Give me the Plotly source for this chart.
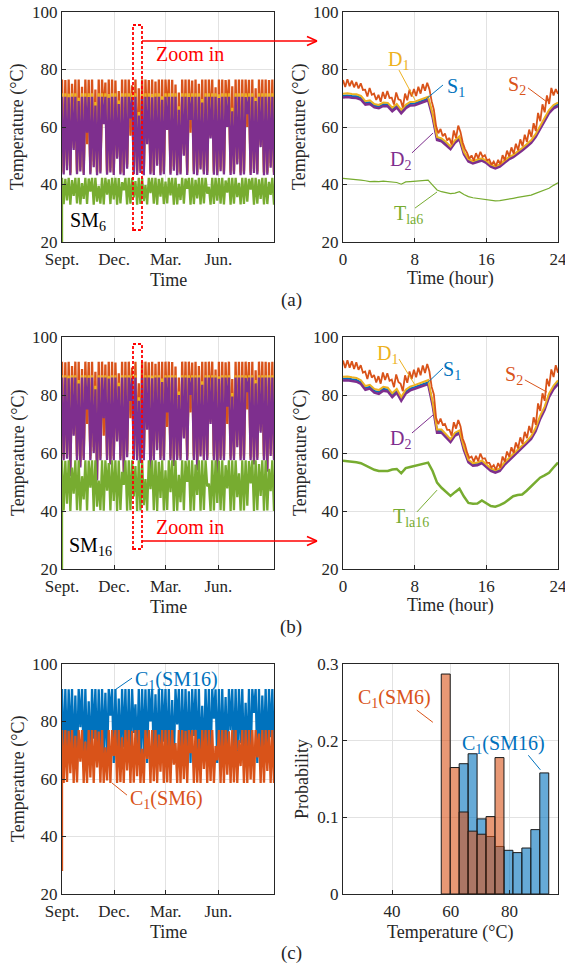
import numpy as np
import plotly.graph_objects as go

W, H = 565, 971
SERIF = "Liberation Serif, Times New Roman, Times, DejaVu Serif, serif"
INK = "#262626"
C_OR = "#D95319"
C_YE = "#EDB120"
C_BL = "#0072BD"
C_PU = "#7E2F8E"
C_GR = "#77AC30"
RED = "#FF0000"

# ---------------- axis ticks ----------------
month_ticks = [0, 91, 181, 273]
month_labels = ["Sept.", "Dec.", "Mar.", "Jun."]
year_span = 370
hour_ticks = [0, 8, 16, 24]
temp_ticks = [20, 40, 60, 80, 100]
prob_ticks = [0, 0.1, 0.2, 0.3]
prob_labels = ["0", "0.1", "0.2", "0.3"]
hist_temp_ticks = [40, 60, 80]

# ---------------- (a) SM6, whole year: peaks / troughs ----------------
sm6_S2_hi = [76.5,76.3,76.5,75.0,76.5,76.5,74.0,76.5,76.4,76.5,73.0,76.5,76.5,75.5,76.5,76.5,
             76.2,72.5,76.5,76.5,76.5,74.5,76.5,73.5,76.5,76.5,76.3,76.5,75.8,76.5,76.5,76.5,
             76.5,76.4,74.8,72.0,76.5,76.5,76.5,76.2,76.5,75.0,76.5,76.5,76.5,76.5,73.8,76.5,
             76.5,76.3,76.5,74.2,76.5,76.5,76.5,76.5,76.4,76.5,73.5,76.5,76.5,76.5,76.3,76.5]
sm6_S2_lo = [44.5,46.5,44.3,55.0,44.8,46.0,44.5,54.0,44.6,48.0,44.3,45.0,63.0,44.5,45.8,44.4,
             51.5,44.6,44.3,47.0,57.0,44.8,44.5,45.5,44.3,57.0,44.6,44.5,48.5,44.3,44.8,62.5,
             44.5,46.3,44.3,44.6,52.5,44.5,58.0,44.8,44.3,46.8,44.6,44.5,59.0,44.5,44.3,46.0,
             44.6,63.5,44.5,44.8,49.0,44.3,44.6,60.0,44.5,45.5,44.6,56.0,44.3,44.5,47.5,44.4]
sm6_D1_hi = [71.7,71.7,71.6,71.7,71.7,70.2,71.7,71.7,71.7,71.7,68.7,71.7,71.7,71.7,71.5,71.7,
             71.7,69.2,71.7,71.7,71.7,71.7,71.7,65.2,71.7,71.7,71.7,71.6,71.7,71.7,70.7,71.7,
             71.7,71.7,71.7,67.2,71.7,71.7,71.7,71.7,71.7,71.7,69.7,71.7,71.7,71.7,71.7,71.4,
             71.7,71.7,71.7,66.7,71.7,71.7,71.7,71.7,71.7,71.7,70.2,71.7,71.7,71.7,71.7,71.7]
sm6_D1_lo = [44.1,45.6,43.8,52.6,44.2,45.1,43.9,58.6,44.1,46.6,43.8,44.4,61.6,44.0,44.8,43.9,
             49.6,44.1,43.8,46.1,63.6,44.2,43.9,44.6,43.8,54.6,44.1,43.9,47.1,43.8,44.2,59.6,
             44.0,45.4,43.8,44.1,50.6,43.9,63.1,44.2,43.8,45.8,44.1,43.9,56.6,44.0,43.8,45.2,
             44.1,60.6,43.9,44.2,47.6,43.8,44.1,65.1,43.9,44.6,44.1,53.6,43.8,44.0,46.4,43.9]
sm6_D2_hi = [70.5,70.5,70.3,70.5,70.5,69.0,70.5,70.5,70.4,70.5,67.5,70.5,70.5,70.5,70.2,70.5,
             70.5,68.0,70.5,70.5,70.5,70.4,70.5,64.0,70.5,70.5,70.5,70.3,70.5,70.5,69.5,70.5,
             70.5,70.5,70.5,66.0,70.5,70.5,70.4,70.5,70.5,70.5,68.5,70.5,70.5,70.5,70.5,70.1,
             70.5,70.5,70.5,65.5,70.5,70.5,70.5,70.4,70.5,70.5,69.0,70.5,70.5,70.5,70.5,70.5]
sm6_D2_lo = [43.5,45.0,43.2,52.0,43.6,44.5,43.3,58.0,43.5,46.0,43.2,43.8,61.0,43.4,44.2,43.3,
             49.0,43.5,43.2,45.5,63.0,43.6,43.3,44.0,43.2,54.0,43.5,43.3,46.5,43.2,43.6,59.0,
             43.4,44.8,43.2,43.5,50.0,43.3,62.5,43.6,43.2,45.2,43.5,43.3,56.0,43.4,43.2,44.6,
             43.5,60.0,43.3,43.6,47.0,43.2,43.5,64.5,43.3,44.0,43.5,53.0,43.2,43.4,45.8,43.3]
sm6_Tla_start = 20.0
sm6_Tla_hi = [42.3,42.0,42.3,41.5,42.3,42.3,40.5,42.3,42.1,42.3,42.3,39.5,42.3,42.3,41.8,42.3,
              42.3,42.2,40.8,42.3,42.3,42.3,41.2,42.3,42.3,39.8,42.3,42.3,42.3,42.0,42.3,41.0,
              42.3,42.3,42.3,40.2,42.3,42.1,42.3,42.3,41.6,42.3,42.3,42.3,39.2,42.3,42.3,42.2,
              42.3,41.4,42.3,42.3,42.3,40.6,42.3,42.3,42.0,42.3,42.3,41.8,42.3,42.3,40.9,42.3]
sm6_Tla_lo = [33.2,34.5,33.0,36.0,33.4,33.1,35.0,33.2,37.5,33.0,34.0,33.3,33.1,36.5,33.2,34.8,
              33.0,33.4,38.0,33.1,33.3,35.5,33.0,33.2,34.2,33.1,37.0,33.3,33.0,35.8,33.2,33.4,
              36.2,33.0,33.1,34.6,33.3,38.5,33.0,33.2,35.2,33.1,33.4,36.8,33.0,33.2,34.4,33.3,
              33.1,37.2,33.0,33.3,35.6,33.1,33.2,34.0,38.2,33.0,33.3,35.0,33.1,33.2,36.4,33.0]

# ---------------- (a) SM6, one day (0.5 h samples) ----------------
hours = np.arange(0, 24.01, 0.5)
day6_S2_hi = [76.3,76.6,76.1,75.6,75.2,73.0,73.6,71.6,71.2,72.2,72.5,70.2,72.0,69.3,71.6,73.0,73.2,74.0,74.9,75.4,
              69.0,60.3,59.3,57.7,56.2,58.8,60.5,54.6,51.0,50.1,50.9,51.4,50.2,48.7,48.0,48.6,50.2,51.8,52.9,54.2,
              55.7,57.3,59.1,61.3,64.9,67.9,71.0,73.6,73.2]
day6_S2_lo = [73.9,74.2,73.8,73.4,72.9,70.6,71.2,69.4,68.8,69.8,70.1,67.8,69.6,66.8,69.3,70.6,70.8,71.6,72.6,73.1,
              66.0,57.8,56.8,55.3,53.9,56.2,58.3,52.4,49.0,48.3,49.1,49.6,48.4,46.9,46.4,47.0,48.4,49.8,50.7,51.9,
              53.3,54.8,56.5,58.6,62.0,65.1,68.0,71.0,71.5]
day6_D1 = [71.6,71.7,71.5,71.4,70.8,69.0,69.3,68.0,67.7,68.5,68.4,66.7,68.0,66.0,67.7,68.7,68.8,69.4,70.0,70.5,
           64.6,56.5,56.0,54.8,53.2,55.4,56.8,51.4,48.9,48.1,48.7,49.1,48.3,47.0,46.4,47.0,48.3,49.5,50.3,51.4,
           52.7,54.0,55.4,57.5,60.5,63.1,65.9,67.6,68.5]
day6_S1 = [70.9,71.0,70.8,70.7,70.1,68.4,68.6,67.4,67.1,67.9,67.8,66.1,67.4,65.4,67.1,68.1,68.2,68.8,69.4,69.9,
           64.1,56.0,55.5,54.3,52.8,55.0,56.3,51.0,48.5,47.7,48.3,48.7,47.9,46.6,46.0,46.6,47.9,49.1,49.9,51.0,
           52.3,53.6,55.0,57.0,60.0,62.6,65.4,67.1,67.9]
day6_D2 = [70.3,70.4,70.2,70.1,69.5,67.8,68.0,66.8,66.5,67.3,67.2,65.5,66.8,64.8,66.5,67.5,67.6,68.2,68.8,69.3,
           63.5,55.5,55.0,53.8,52.3,54.5,55.8,50.5,48.0,47.3,47.9,48.3,47.5,46.2,45.6,46.2,47.5,48.7,49.5,50.5,
           51.8,53.1,54.5,56.5,59.5,62.0,64.8,66.5,67.3]
day6_Tla = [42.1,42.0,41.9,41.7,41.5,41.3,41.0,41.1,41.0,41.2,41.0,40.9,40.7,40.1,40.9,41.0,41.1,41.2,41.4,41.5,
            39.8,38.1,37.5,37.2,36.8,37.0,37.5,36.5,35.8,35.4,35.2,35.0,34.8,34.4,34.3,34.4,34.6,34.9,35.2,35.5,
            35.8,36.0,36.3,36.9,37.5,38.0,38.7,39.7,40.6]

# ---------------- (b) SM16, whole year ----------------
sm16_S2_hi = [91.5,91.3,91.5,90.0,91.5,91.5,89.0,91.5,91.4,91.5,88.0,91.5,91.5,90.5,91.5,91.5,
              91.2,87.5,91.5,91.5,91.5,89.5,91.5,84.0,91.5,91.5,91.3,91.5,90.8,91.5,91.5,91.5,
              91.5,91.4,89.8,86.0,91.5,91.5,91.5,91.2,91.5,90.0,91.5,91.5,91.5,91.5,88.8,91.5,
              91.5,91.3,91.5,85.5,91.5,91.5,91.5,91.5,91.4,91.5,88.5,91.5,91.5,91.5,91.3,91.5]
sm16_S2_lo = [59.0,59.5,58.5,68.5,59.0,57.0,59.1,70.0,59.0,62.0,58.0,59.0,66.0,59.1,58.0,59.0,
              67.0,59.0,58.0,60.5,72.0,59.1,59.0,58.5,59.0,71.0,58.0,59.0,63.5,59.1,59.0,69.0,
              59.0,58.0,59.1,59.0,68.0,59.0,74.0,59.1,58.0,61.0,59.0,59.1,73.5,59.0,58.0,59.1,
              59.0,70.0,59.0,59.1,64.5,59.0,59.1,75.0,59.0,58.5,59.1,70.5,59.0,58.0,61.5,59.0]
sm16_D1_hi = [86.8,86.8,86.7,86.8,86.8,85.2,86.8,86.8,86.8,86.8,83.2,86.8,86.8,86.8,86.6,86.8,
              86.8,84.2,86.8,86.8,86.8,86.8,86.8,79.2,86.8,86.8,86.8,86.7,86.8,86.8,85.7,86.8,
              86.8,86.8,86.8,81.2,86.8,86.8,86.8,86.8,86.8,86.8,84.7,86.8,86.8,86.8,86.8,86.5,
              86.8,86.8,86.8,80.7,86.8,86.8,86.8,86.8,86.8,86.8,85.2,86.8,86.8,86.8,86.8,86.8]
sm16_D1_lo = [58.1,58.6,52.6,66.6,58.1,55.6,58.2,75.6,58.1,60.6,51.1,58.1,72.6,58.2,56.6,58.1,
              64.6,58.1,53.6,59.1,78.6,58.2,58.1,57.1,58.1,68.6,52.1,58.1,61.6,58.2,58.1,74.6,
              58.1,56.1,58.2,58.1,65.6,58.1,80.6,58.2,54.6,59.4,58.1,58.2,70.6,58.1,53.1,58.2,
              58.1,76.6,58.1,58.2,62.6,58.1,58.2,81.6,58.1,56.6,58.2,67.6,58.1,54.1,59.6,58.1]
sm16_D2_hi = [86.0,86.0,85.8,86.0,86.0,84.0,86.0,86.0,85.9,86.0,82.0,86.0,86.0,86.0,85.7,86.0,
              86.0,83.0,86.0,86.0,86.0,85.9,86.0,78.0,86.0,86.0,86.0,85.8,86.0,86.0,84.5,86.0,
              86.0,86.0,86.0,80.0,86.0,86.0,85.9,86.0,86.0,86.0,83.5,86.0,86.0,86.0,86.0,85.6,
              86.0,86.0,86.0,79.5,86.0,86.0,86.0,85.9,86.0,86.0,84.0,86.0,86.0,86.0,86.0,86.0]
sm16_D2_lo = [57.5,58.0,52.0,66.0,57.5,55.0,57.6,75.0,57.5,60.0,50.5,57.5,72.0,57.6,56.0,57.5,
              64.0,57.5,53.0,58.5,78.0,57.6,57.5,56.5,57.5,68.0,51.5,57.5,61.0,57.6,57.5,74.0,
              57.5,55.5,57.6,57.5,65.0,57.5,80.0,57.6,54.0,58.8,57.5,57.6,70.0,57.5,52.5,57.6,
              57.5,76.0,57.5,57.6,62.0,57.5,57.6,81.0,57.5,56.0,57.6,67.0,57.5,53.5,59.0,57.5]
sm16_Tla_start = 20.0
sm16_Tla_hi = [57.5,57.3,57.5,55.0,57.5,57.5,52.0,57.5,57.4,57.5,57.5,50.5,57.5,57.5,56.5,57.5,
               57.5,57.4,53.5,57.5,57.5,57.5,55.5,57.5,57.5,51.0,57.5,57.5,57.5,57.0,57.5,54.0,
               57.5,57.5,57.5,52.5,57.5,57.3,57.5,57.5,56.0,57.5,57.5,57.5,49.5,57.5,57.5,57.4,
               57.5,55.8,57.5,57.5,57.5,53.0,57.5,57.5,57.2,57.5,57.5,56.2,57.5,57.5,54.5,57.5]
sm16_Tla_lo = [40.2,42.5,40.0,46.0,40.3,40.1,44.0,40.2,48.0,40.0,41.5,40.3,40.1,47.0,40.2,43.5,
               40.0,40.4,49.0,40.1,40.3,45.0,40.0,40.2,42.0,40.1,47.5,40.3,40.0,44.5,40.2,40.4,
               46.5,40.0,40.1,43.0,40.3,50.0,40.0,40.2,45.5,40.1,40.4,48.5,40.0,40.2,42.8,40.3,
               40.1,47.8,40.0,40.3,44.8,40.1,40.2,41.8,49.5,40.0,40.3,45.2,40.1,40.2,46.8,40.0]

# ---------------- (b) SM16, one day ----------------
day16_S2_hi = [91.9,92.0,91.6,91.3,90.3,88.1,88.6,86.9,86.5,87.8,87.5,85.3,87.1,83.9,86.8,88.1,88.7,89.4,90.2,90.7,
               82.8,72.1,71.9,70.0,68.0,70.6,71.4,65.0,60.1,58.8,59.0,59.8,58.2,56.6,55.8,56.5,58.8,60.5,62.0,63.6,
               65.4,67.3,69.3,72.3,77.1,80.6,85.6,88.8,90.3]
day16_S2_lo = [89.3,89.4,89.0,88.7,87.7,85.5,86.0,84.3,83.9,85.2,84.9,82.7,84.5,81.3,84.2,85.5,86.1,86.8,87.6,88.1,
               80.2,69.9,69.7,68.0,66.0,68.4,69.2,63.0,58.3,57.0,57.2,58.0,56.6,55.0,54.2,54.9,57.0,58.7,60.0,61.6,
               63.2,65.1,66.9,69.7,74.5,78.0,83.0,86.2,87.7]
day16_D1 = [86.3,86.4,86.1,85.9,85.1,83.1,83.5,82.1,81.7,82.8,82.5,80.6,82.1,79.3,81.8,82.9,83.4,84.0,84.6,85.1,
            77.7,68.1,68.1,66.6,64.8,67.0,67.8,62.0,57.7,56.5,56.7,57.4,56.1,54.7,54.1,54.7,56.7,58.2,59.5,60.9,
            62.5,64.1,65.8,68.6,72.8,75.9,80.5,83.2,85.0]
day16_S1 = [85.6,85.7,85.4,85.2,84.4,82.4,82.8,81.4,81.0,82.1,81.8,79.9,81.4,78.6,81.1,82.2,82.7,83.3,83.9,84.4,
            77.1,67.6,67.6,66.1,64.4,66.6,67.4,61.6,57.3,56.1,56.3,57.0,55.7,54.3,53.7,54.3,56.3,57.8,59.1,60.5,
            62.0,63.6,65.3,68.0,72.2,75.3,79.8,82.5,84.4]
day16_D2 = [85.0,85.1,84.8,84.6,83.8,81.8,82.2,80.8,80.4,81.5,81.2,79.3,80.8,78.0,80.5,81.6,82.1,82.7,83.3,83.8,
            76.5,67.0,67.0,65.5,63.8,66.0,66.8,61.0,56.8,55.6,55.8,56.5,55.2,53.8,53.2,53.8,55.8,57.3,58.6,60.0,
            61.5,63.1,64.8,67.5,71.7,74.8,79.3,82.0,83.8]
day16_Tla = [57.3,57.2,57.0,56.8,56.5,55.8,55.0,54.2,53.8,53.9,53.8,54.3,54.5,53.0,54.8,55.2,55.6,56.0,56.5,56.7,
             53.8,49.8,48.0,46.5,45.2,46.5,47.7,45.0,42.8,42.5,42.6,43.6,42.6,41.7,41.5,42.0,42.8,44.0,45.1,45.5,
             45.7,47.0,48.6,50.0,51.5,52.3,53.2,55.0,56.7]

# ---------------- (c) C1 whole year ----------------
c1_sm16_hi = [91.3,91.3,91.2,91.3,89.0,91.3,91.3,91.3,87.0,91.3,91.3,91.2,91.3,90.0,91.3,91.3,
              91.3,88.0,91.3,91.3,91.3,91.3,86.0,91.3,91.3,91.2,91.3,91.3,89.5,91.3,91.3,91.3,
              91.3,87.5,91.3,91.3,91.3,91.3,90.5,91.3,91.3,91.3,85.5,91.3,91.3,91.3,91.2,91.3,
              91.3,88.5,91.3,91.3,91.3,91.3,91.3,86.5,91.3,91.3,91.3,91.3,89.0,91.3,91.3,91.3]
c1_sm16_lo = [65.6,66.0,72.0,65.6,65.8,78.0,65.6,66.5,65.6,74.0,65.7,65.6,69.0,65.6,82.0,65.6,
              66.2,65.6,71.0,65.6,65.7,76.0,65.6,65.6,68.0,65.6,80.0,65.6,66.0,65.6,73.0,65.6,
              65.8,65.6,79.0,65.6,67.0,65.6,65.6,75.0,65.6,66.4,65.6,70.0,65.6,81.0,65.6,65.7,
              67.5,65.6,77.0,65.6,65.6,72.5,65.6,66.1,65.6,83.0,65.6,65.8,69.5,65.6,74.5,65.6]
c1_sm6_start = 28.0
c1_sm6_hi = [77.0,77.0,76.8,77.0,75.0,77.0,77.0,73.0,77.0,77.0,77.0,76.5,77.0,71.0,77.0,77.0,
             77.0,77.0,74.5,77.0,77.0,76.8,77.0,77.0,70.5,77.0,77.0,77.0,77.0,75.5,77.0,77.0,
             77.0,77.0,72.5,77.0,77.0,76.8,77.0,77.0,77.0,74.0,77.0,77.0,77.0,77.0,71.5,77.0,
             77.0,77.0,76.6,77.0,77.0,73.5,77.0,77.0,77.0,77.0,77.0,75.8,77.0,77.0,77.0,77.0]
c1_sm6_lo = [58.6,59.0,62.0,58.6,58.8,66.0,58.6,58.6,60.5,58.6,64.0,58.7,58.6,59.5,58.6,68.0,
             58.6,58.9,58.6,63.0,58.6,58.7,61.0,58.6,58.6,67.0,58.6,59.2,58.6,62.5,58.6,58.8,
             58.6,65.0,58.6,58.6,60.0,58.6,69.0,58.6,58.7,58.6,63.5,58.6,59.3,58.6,66.5,58.6,
             58.6,61.5,58.6,58.8,58.6,64.5,58.6,58.6,59.8,58.6,67.5,58.6,58.7,62.8,58.6,58.6]

# ---------------- (c) histogram ----------------
hist_sm6_edges = [56.75, 59.8, 62.85, 65.9, 68.95, 72.0, 75.05, 78.1]
hist_sm6_prob = [0.287, 0.165, 0.107, 0.082, 0.078, 0.101, 0.178]
hist_sm16_edges = [62.85, 65.9, 68.95, 72.0, 75.05, 78.1, 81.15, 84.2, 87.25, 90.3, 93.35]
hist_sm16_prob = [0.170, 0.183, 0.098, 0.075, 0.062, 0.057, 0.054, 0.060, 0.084, 0.158]


# ---------------- helpers ----------------
def zig(hi, lo, start=None):
    v = [val for pair in zip(hi, lo) for val in pair]
    if start is not None:
        v = [start] + v
    return v


def year_x(n, start=False):
    x = list(np.linspace(0, year_span, n))
    return ([0.0] + x) if start else x


def day_zig_x(n):
    return list(np.linspace(0, 24, n))


def PX(x):
    return x / W


def PY(y):
    return 1 - y / H


fig = go.Figure()
YEAR_W = 2.3


def line(x, y, ax, color, width):
    fig.add_trace(go.Scatter(x=x, y=y, mode="lines", xaxis="x" + ax, yaxis="y" + ax,
                             line=dict(color=color, width=width), hoverinfo="skip",
                             showlegend=False))


# (a) left
for hi, lo, col in [(sm6_S2_hi, sm6_S2_lo, C_OR), (sm6_D1_hi, sm6_D1_lo, C_YE),
                    (sm6_D2_hi, sm6_D2_lo, C_PU)]:
    v = zig(hi, lo)
    line(year_x(len(v)), v, "", col, YEAR_W)
v = zig(sm6_Tla_hi, sm6_Tla_lo)
line(year_x(len(v), True), [sm6_Tla_start] + v, "", C_GR, YEAR_W)

# (a) right
line(hours, day6_S1, "2", C_BL, 2)
line(hours, day6_D2, "2", C_PU, 2.5)
line(hours, day6_D1, "2", C_YE, 2)
v = zig(day6_S2_hi, day6_S2_lo)
line(day_zig_x(len(v)), v, "2", C_OR, 1.8)
line(hours, day6_Tla, "2", C_GR, 1.2)

# (b) left
for hi, lo, col in [(sm16_S2_hi, sm16_S2_lo, C_OR), (sm16_D1_hi, sm16_D1_lo, C_YE),
                    (sm16_D2_hi, sm16_D2_lo, C_PU)]:
    v = zig(hi, lo)
    line(year_x(len(v)), v, "3", col, YEAR_W)
v = zig(sm16_Tla_hi, sm16_Tla_lo)
line(year_x(len(v), True), [sm16_Tla_start] + v, "3", C_GR, YEAR_W)

# (b) right
line(hours, day16_S1, "4", C_BL, 2)
line(hours, day16_D2, "4", C_PU, 2.5)
line(hours, day16_D1, "4", C_YE, 2)
v = zig(day16_S2_hi, day16_S2_lo)
line(day_zig_x(len(v)), v, "4", C_OR, 1.8)
line(hours, day16_Tla, "4", C_GR, 2.5)

# (c) left
v = zig(c1_sm16_hi, c1_sm16_lo)
line(year_x(len(v)), v, "5", C_BL, YEAR_W)
v = zig(c1_sm6_hi, c1_sm6_lo)
line(year_x(len(v), True), [c1_sm6_start] + v, "5", C_OR, YEAR_W)

# (c) right: histograms
for edges, prob, rgba in [(hist_sm16_edges, hist_sm16_prob, "rgba(0,114,189,0.6)"),
                          (hist_sm6_edges, hist_sm6_prob, "rgba(217,83,25,0.6)")]:
    e = np.array(edges)
    fig.add_trace(go.Bar(x=(e[:-1] + e[1:]) / 2, y=prob, width=np.diff(e),
                         xaxis="x6", yaxis="y6", showlegend=False, hoverinfo="skip",
                         marker=dict(color=rgba, line=dict(color="#1a1a1a", width=1))))

# ---------------- axes ----------------
panels = {
    "": (62, 274, 12, 242),
    "2": (343, 558, 12, 242),
    "3": (62, 274, 337, 569),
    "4": (343, 558, 337, 569),
    "5": (62, 274, 664, 894),
    "6": (343, 558, 664, 894),
}
base = dict(showline=True, mirror=True, linecolor=INK, linewidth=1, ticks="inside",
            ticklen=4, tickcolor=INK, showgrid=True, gridcolor="#e2e2e2", gridwidth=1,
            zeroline=False, automargin=False, fixedrange=True, ticklabeloverflow="allow",
            tickfont=dict(family=SERIF, size=17, color=INK))
lay = {}
for k, (x0, x1, y0, y1) in panels.items():
    xa = dict(base, domain=[PX(x0), PX(x1)], anchor="y" + k, ticklabelstandoff=2)
    ya = dict(base, domain=[PY(y1), PY(y0)], anchor="x" + k)
    if k in ("", "3", "5"):
        xa.update(range=[0, year_span], tickvals=month_ticks, ticktext=month_labels)
        ya.update(range=[20, 100.001], tickvals=temp_ticks)
    elif k in ("2", "4"):
        xa.update(range=[0, 24.001], tickvals=hour_ticks)
        ya.update(range=[20, 100.001], tickvals=temp_ticks)
    else:
        xa.update(range=[23.3, 96.5], tickvals=hist_temp_ticks)
        ya.update(range=[0, 0.3001], tickvals=prob_ticks, ticktext=prob_labels)
    lay["xaxis" + k] = xa
    lay["yaxis" + k] = ya

# ---------------- annotations ----------------
anns = []


def txt(text, x, y, size=18, color=INK, angle=0, xref="paper", yref="paper", xanchor="center"):
    if xref == "paper":
        x, y = PX(x), PY(y)
    anns.append(dict(text=text, x=x, y=y, xref=xref, yref=yref, showarrow=False,
                     xanchor=xanchor, yanchor="middle", textangle=angle,
                     font=dict(family=SERIF, size=size, color=color)))


for (x, y) in [(18, 127), (300, 127), (18, 453), (300, 453), (18, 779)]:
    txt("Temperature (°C)", x, y, angle=-90)
txt("Probability", 302, 779, angle=-90)
for y in (280, 607, 932):
    txt("Time", 168, y)
txt("Time (hour)", 450, 278)
txt("Time (hour)", 450, 605)
txt("Temperature (°C)", 450, 932)
txt("(a)", 291, 300, size=19)
txt("(b)", 291, 627, size=19)
txt("(c)", 291, 953, size=19)
txt("Zoom in", 190, 54, size=20, color=RED)
txt("Zoom in", 190, 527, size=20, color=RED)
txt("SM<sub>6</sub>", 10.5, 27.3, size=20, color="#000", xref="x", yref="y", xanchor="left")
txt("SM<sub>16</sub>", 8.7, 27.6, size=20, color="#000", xref="x3", yref="y3", xanchor="left")

shapes = []


def seg(x0, y0, x1, y1, color, ax, width=1):
    shapes.append(dict(type="line", x0=x0, y0=y0, x1=x1, y1=y1, xref="x" + ax, yref="y" + ax,
                       line=dict(color=color, width=width)))


labels_day = {
    "2": [("D<sub>1</sub>", C_YE, (6.14, 83.0), (6.25, 79.8, 8.04, 69.4)),
          ("S<sub>1</sub>", C_BL, (12.6, 73.6), (11.16, 74.6, 9.15, 69.4)),
          ("S<sub>2</sub>", C_OR, (19.4, 74.6), (20.65, 73.6, 22.77, 68.7)),
          ("D<sub>2</sub>", C_PU, (6.47, 48.5), (7.7, 51.0, 10.05, 57.9)),
          ("T<sub>la6</sub>", C_GR, (7.26, 29.4), (8.04, 31.8, 10.5, 37.4))],
    "4": [("D<sub>1</sub>", C_YE, (5.02, 93.8), (6.25, 92.4, 8.04, 83.4)),
          ("S<sub>1</sub>", C_BL, (12.17, 88.3), (11.16, 89.3, 9.15, 83.4)),
          ("S<sub>2</sub>", C_OR, (19.1, 86.6), (20.3, 85.2, 22.77, 81.0)),
          ("D<sub>2</sub>", C_PU, (6.47, 64.5), (7.7, 66.9, 10.05, 73.1)),
          ("T<sub>la16</sub>", C_GR, (7.6, 37.6), (8.26, 39.7, 10.5, 47.2))],
}
for ax, items in labels_day.items():
    for text, col, (tx, ty), (a, b, c, d) in items:
        txt(text, tx, ty, size=20, color=col, xref="x" + ax, yref="y" + ax)
        seg(a, b, c, d, col, ax)

txt("C<sub>1</sub>(SM16)", 123.9, 94.4, size=20, color=C_BL, xref="x5", yref="y5", xanchor="left")
seg(122.2, 95.1, 92.5, 91.0, C_BL, "5")
txt("C<sub>1</sub>(SM6)", 115.2, 52.7, size=20, color=C_OR, xref="x5", yref="y5", xanchor="left")
seg(113.4, 54.4, 87.3, 58.6, C_OR, "5")
txt("C<sub>1</sub>(SM6)", 41.0, 0.2557, size=20, color=C_OR, xref="x6", yref="y6")
seg(48.4, 0.240, 53.9, 0.224, C_OR, "6")
txt("C<sub>1</sub>(SM16)", 77.9, 0.1957, size=20, color=C_BL, xref="x6", yref="y6")
seg(86.4, 0.181, 90.5, 0.162, C_BL, "6")

# red zoom markers (paper coordinates)
for (ry0, ry1, ay) in [(25, 230, 41), (344, 549, 541)]:
    shapes.append(dict(type="rect", xref="paper", yref="paper", x0=PX(133), x1=PX(142),
                       y0=PY(ry1), y1=PY(ry0), line=dict(color=RED, width=1.8, dash="3px,2px")))
    shapes.append(dict(type="line", xref="paper", yref="paper", x0=PX(142), y0=PY(ay),
                       x1=PX(317), y1=PY(ay), line=dict(color=RED, width=1.6)))
    for dy in (-4.5, 4.5):
        shapes.append(dict(type="line", xref="paper", yref="paper", x0=PX(317), y0=PY(ay),
                           x1=PX(307), y1=PY(ay + dy), line=dict(color=RED, width=1.6)))

fig.update_layout(width=W, height=H, margin=dict(l=0, r=0, t=0, b=0),
                  paper_bgcolor="white", plot_bgcolor="white", barmode="overlay",
                  showlegend=False, annotations=anns, shapes=shapes, **lay)

fig.write_html("out.html")
